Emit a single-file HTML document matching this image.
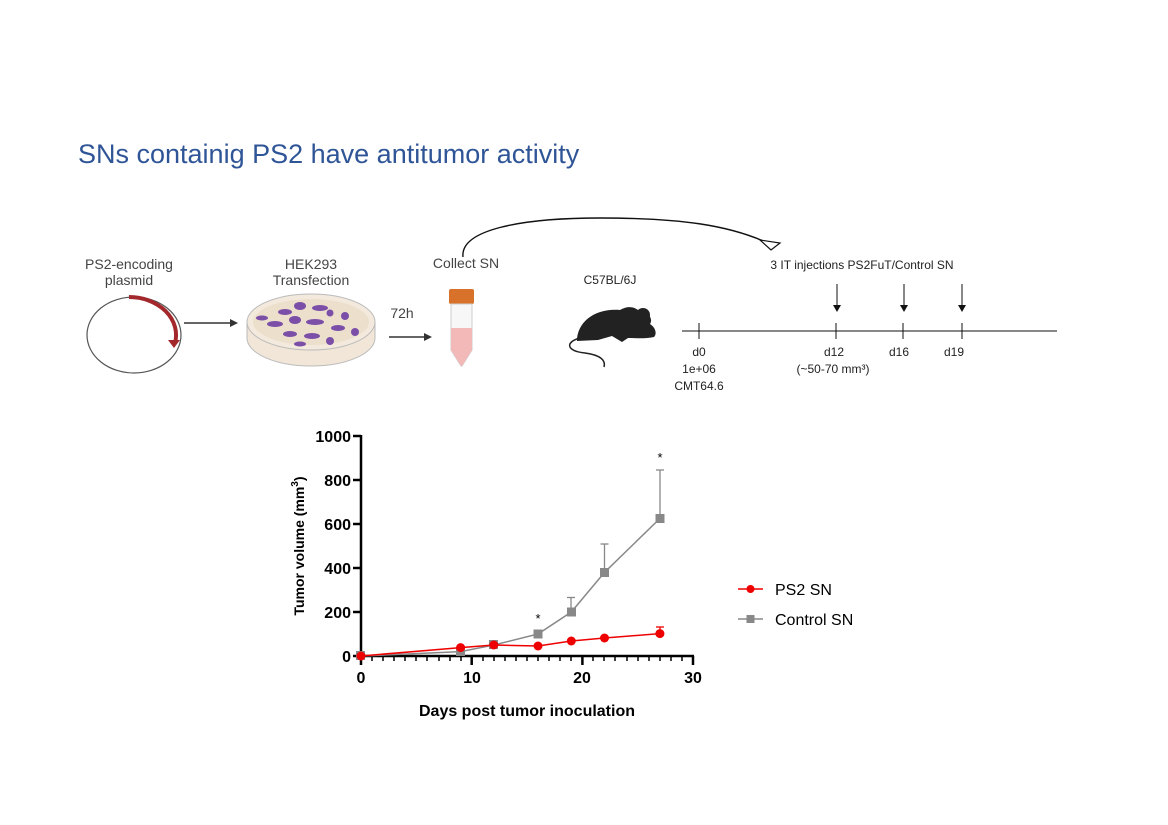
<!DOCTYPE html>
<html><head><meta charset="utf-8"><style>
html,body{margin:0;padding:0;background:#fff;}
svg{display:block;font-family:"Liberation Sans",sans-serif;}
</style></head><body>
<svg width="1168" height="825" viewBox="0 0 1168 825" xmlns="http://www.w3.org/2000/svg">
<rect width="1168" height="825" fill="#fff"/>
<text x="78" y="163" font-size="27" fill="#2f5597">SNs containig PS2 have antitumor activity</text>

<!-- plasmid -->
<text x="129" y="269" font-size="14" fill="#444" text-anchor="middle">PS2-encoding</text>
<text x="129" y="285" font-size="14" fill="#444" text-anchor="middle">plasmid</text>
<ellipse cx="134" cy="335" rx="47" ry="38" fill="none" stroke="#555" stroke-width="1.2"/>
<path d="M129,297 A47,38 0 0 1 175,343" fill="none" stroke="#a3282c" stroke-width="4"/>
<polygon points="168,340 180,340 174,348" fill="#a3282c"/>
<line x1="184" y1="323" x2="230" y2="323" stroke="#333" stroke-width="1.5"/>
<polygon points="230,319 238,323 230,327" fill="#333"/>

<!-- dish -->
<text x="311" y="269" font-size="14" fill="#444" text-anchor="middle">HEK293</text>
<text x="311" y="285" font-size="14" fill="#444" text-anchor="middle">Transfection</text>
<path d="M247,322 L247,338 A64,28 0 0 0 375,338 L375,322" fill="#f1e6d8" stroke="#bbb"/>
<ellipse cx="311" cy="322" rx="64" ry="28" fill="#f3e9dc" stroke="#bbb"/>
<ellipse cx="311" cy="322" rx="58" ry="23" fill="#ecdfcc"/>
<g fill="#7b4fa8">
<ellipse cx="285" cy="312" rx="7" ry="3"/><ellipse cx="300" cy="306" rx="6" ry="4"/><ellipse cx="320" cy="308" rx="8" ry="3"/><circle cx="345" cy="316" r="4"/>
<ellipse cx="275" cy="324" rx="8" ry="3"/><ellipse cx="295" cy="320" rx="6" ry="4"/><ellipse cx="315" cy="322" rx="9" ry="3"/><ellipse cx="338" cy="328" rx="7" ry="3"/>
<circle cx="355" cy="332" r="4"/><ellipse cx="290" cy="334" rx="7" ry="3"/><ellipse cx="312" cy="336" rx="8" ry="3"/><circle cx="330" cy="341" r="4"/>
<ellipse cx="300" cy="344" rx="6" ry="2.5"/><ellipse cx="262" cy="318" rx="6" ry="2.5"/><circle cx="330" cy="313" r="3.5"/>
</g>
<text x="402" y="318" font-size="14" fill="#444" text-anchor="middle">72h</text>
<line x1="389" y1="337" x2="424" y2="337" stroke="#333" stroke-width="1.5"/>
<polygon points="424,333 432,337 424,341" fill="#333"/>

<!-- tube -->
<text x="466" y="268" font-size="14" fill="#444" text-anchor="middle">Collect SN</text>
<rect x="449" y="289" width="25" height="15" rx="2" fill="#d8722a"/>
<path d="M451,304 L472,304 L472,350 L462,366 L461,366 L451,350 Z" fill="#f7f7f7" stroke="#ccc"/>
<path d="M451,328 L472,328 L472,350 L462,366 L461,366 L451,350 Z" fill="#f3b9b9"/>

<!-- mouse -->
<text x="610" y="284" font-size="12" fill="#222" text-anchor="middle">C57BL/6J</text>
<path d="M577,341 C577,322 595,308 620,310 C628,305 636,307 640,312 C646,310 654,318 650,324 C656,328 657,334 654,337 C645,339 635,338 628,338 L622,342 L612,336 L598,340 Z" fill="#222"/>
<circle cx="643" cy="315" r="7" fill="#222"/>
<path d="M580,338 C565,342 566,351 585,353 C600,355 606,360 604,367" fill="none" stroke="#222" stroke-width="1.5"/>

<!-- curved arrow -->
<path d="M463,257 C460,230 520,218 600,218 C680,218 730,225 770,244" fill="none" stroke="#111" stroke-width="1.4"/>
<polygon points="760,240 780,243 771,250" fill="#fff" stroke="#111" stroke-width="1.2"/>

<!-- timeline -->
<text x="862" y="269" font-size="12" fill="#222" text-anchor="middle">3 IT injections PS2FuT/Control SN</text>
<line x1="682" y1="331" x2="1057" y2="331" stroke="#111" stroke-width="1"/>
<g stroke="#111" stroke-width="1">
<line x1="699" y1="323" x2="699" y2="339"/><line x1="836" y1="323" x2="836" y2="339"/>
<line x1="903" y1="323" x2="903" y2="339"/><line x1="962" y1="323" x2="962" y2="339"/>
<line x1="837" y1="284" x2="837" y2="306"/><line x1="904" y1="284" x2="904" y2="306"/><line x1="962" y1="284" x2="962" y2="306"/>
</g>
<g fill="#111"><polygon points="833,305 841,305 837,312"/><polygon points="900,305 908,305 904,312"/><polygon points="958,305 966,305 962,312"/></g>
<g font-size="12" fill="#222" text-anchor="middle">
<text x="699" y="356">d0</text><text x="699" y="373">1e+06</text><text x="699" y="390">CMT64.6</text>
<text x="834" y="356">d12</text><text x="833" y="373">(~50-70 mm³)</text>
<text x="899" y="356">d16</text><text x="954" y="356">d19</text>
</g>

<!-- chart -->
<g stroke="#000" stroke-width="2.5" fill="none">
<line x1="361" y1="435" x2="361" y2="657"/>
<line x1="360" y1="656" x2="694" y2="656"/>
</g>
<g stroke="#000" stroke-width="2.5">
<line x1="353" y1="436" x2="361" y2="436"/><line x1="353" y1="480" x2="361" y2="480"/><line x1="353" y1="524" x2="361" y2="524"/>
<line x1="353" y1="568" x2="361" y2="568"/><line x1="353" y1="612" x2="361" y2="612"/><line x1="353" y1="656" x2="361" y2="656"/>
<line x1="361" y1="656" x2="361" y2="665"/><line x1="471.7" y1="656" x2="471.7" y2="665"/><line x1="582.4" y1="656" x2="582.4" y2="665"/><line x1="693" y1="656" x2="693" y2="665"/>
</g>
<g stroke="#000" stroke-width="1.5">
<line x1="372" y1="656" x2="372" y2="661"/><line x1="383" y1="656" x2="383" y2="661"/><line x1="394" y1="656" x2="394" y2="661"/><line x1="405" y1="656" x2="405" y2="661"/><line x1="416" y1="656" x2="416" y2="661"/><line x1="427" y1="656" x2="427" y2="661"/><line x1="439" y1="656" x2="439" y2="661"/><line x1="450" y1="656" x2="450" y2="661"/><line x1="461" y1="656" x2="461" y2="661"/>
<line x1="483" y1="656" x2="483" y2="661"/><line x1="494" y1="656" x2="494" y2="661"/><line x1="505" y1="656" x2="505" y2="661"/><line x1="516" y1="656" x2="516" y2="661"/><line x1="527" y1="656" x2="527" y2="661"/><line x1="538" y1="656" x2="538" y2="661"/><line x1="549" y1="656" x2="549" y2="661"/><line x1="560" y1="656" x2="560" y2="661"/><line x1="571" y1="656" x2="571" y2="661"/>
<line x1="593" y1="656" x2="593" y2="661"/><line x1="604" y1="656" x2="604" y2="661"/><line x1="615" y1="656" x2="615" y2="661"/><line x1="627" y1="656" x2="627" y2="661"/><line x1="638" y1="656" x2="638" y2="661"/><line x1="649" y1="656" x2="649" y2="661"/><line x1="660" y1="656" x2="660" y2="661"/><line x1="671" y1="656" x2="671" y2="661"/><line x1="682" y1="656" x2="682" y2="661"/>
</g>
<g font-size="16" font-weight="bold" text-anchor="end">
<text x="351" y="442">1000</text><text x="351" y="486">800</text><text x="351" y="530">600</text>
<text x="351" y="574">400</text><text x="351" y="618">200</text><text x="351" y="662">0</text>
</g>
<g font-size="16" font-weight="bold" text-anchor="middle">
<text x="361" y="683">0</text><text x="472" y="683">10</text><text x="582" y="683">20</text><text x="693" y="683">30</text>
</g>
<text x="527" y="716" font-size="16" font-weight="bold" text-anchor="middle">Days post tumor inoculation</text>
<text transform="translate(304,546) rotate(-90)" font-size="14" font-weight="bold" text-anchor="middle">Tumor volume (mm<tspan font-size="10" dy="-6">3</tspan><tspan dy="6">)</tspan></text>

<!-- control error bars -->
<g stroke="#888" stroke-width="1.3">
<line x1="571" y1="612" x2="571" y2="597.5"/><line x1="567" y1="597.5" x2="575" y2="597.5"/>
<line x1="604.5" y1="572" x2="604.5" y2="544"/><line x1="600.5" y1="544" x2="608.5" y2="544"/>
<line x1="660" y1="518" x2="660" y2="470"/><line x1="656" y1="470" x2="664" y2="470"/>
</g>
<polyline points="361,656 460.6,651.6 493.8,645 538,634 571.3,612 604.5,572.4 659.9,518.5" fill="none" stroke="#888" stroke-width="1.5"/>
<g fill="#888">
<rect x="356" y="651" width="9" height="9"/><rect x="456" y="647" width="9" height="9"/><rect x="489" y="640" width="9" height="9"/>
<rect x="533.5" y="629.5" width="9" height="9"/><rect x="567" y="607.5" width="9" height="9"/><rect x="600" y="568" width="9" height="9"/><rect x="655.5" y="514" width="9" height="9"/>
</g>
<!-- ps2 -->
<g stroke="#e00" stroke-width="1.3"><line x1="660" y1="634" x2="660" y2="627"/><line x1="656" y1="627" x2="664" y2="627"/></g>
<polyline points="361,656 460.6,647.6 493.8,645 538,646 571.3,641 604.5,638 659.9,633.6" fill="none" stroke="#e00" stroke-width="1.5"/>
<g fill="#e00">
<circle cx="361" cy="656" r="4.5"/><circle cx="460.6" cy="647.6" r="4.5"/><circle cx="493.8" cy="645" r="4.5"/><circle cx="538" cy="646" r="4.5"/>
<circle cx="571.3" cy="641" r="4.5"/><circle cx="604.5" cy="638" r="4.5"/><circle cx="659.9" cy="633.6" r="4.5"/>
</g>
<text x="538" y="623" font-size="13" text-anchor="middle">*</text>
<text x="660" y="462" font-size="13" text-anchor="middle">*</text>

<!-- legend -->
<line x1="738" y1="589" x2="763" y2="589" stroke="#e00" stroke-width="1.5"/><circle cx="750.5" cy="589" r="4" fill="#e00"/>
<text x="775" y="595" font-size="16">PS2 SN</text>
<line x1="738" y1="619" x2="763" y2="619" stroke="#888" stroke-width="1.5"/><rect x="746.5" y="615" width="8" height="8" fill="#888"/>
<text x="775" y="625" font-size="16">Control SN</text>
</svg>
</body></html>
